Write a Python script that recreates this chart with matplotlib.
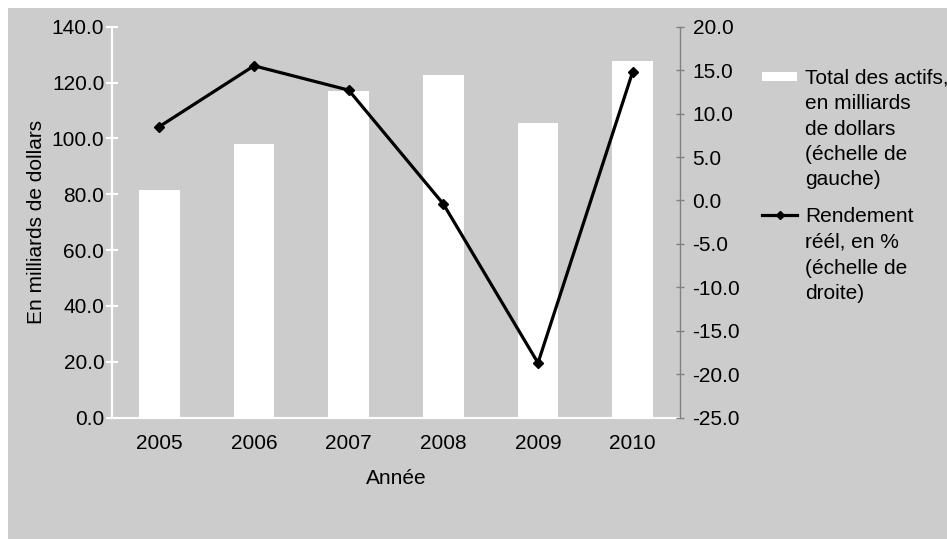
import matplotlib
matplotlib.use('Agg')
import matplotlib.pyplot as plt
from matplotlib.patches import Rectangle
from matplotlib.lines import Line2D

# Data
years = ['2005', '2006', '2007', '2008', '2009', '2010']
total_assets = [81.5, 98.0, 116.9, 122.8, 105.5, 127.7]   # milliards de dollars
real_return = [8.5, 15.5, 12.7, -0.4, -18.7, 14.8]         # %
left_ticks = [0, 20, 40, 60, 80, 100, 120, 140]
right_ticks = [-25, -20, -15, -10, -5, 0, 5, 10, 15, 20]

plt.rcParams['font.family'] = ['Liberation Sans', 'DejaVu Sans']
plt.rcParams['font.size'] = 15

W, H = 947, 539
bg = '#cccccc'

fig = plt.figure(figsize=(W / 100, H / 100), dpi=100)
fig.patch.set_facecolor('white')
fig.patches.append(Rectangle((8 / W, 0), 1, 531 / H, transform=fig.transFigure,
                             facecolor=bg, edgecolor='none', zorder=-10))

# Left axis: bars
ax = fig.add_axes([112 / W, (H - 417.7) / H, 568 / W, 391 / H])
ax.set_facecolor(bg)
x = list(range(len(years)))
ax.bar(x, total_assets, width=0.43, color='white')
ax.set_xlim(-0.5, len(years) - 0.5)
ax.set_ylim(0, 140)
ax.set_yticks(left_ticks)
ax.set_yticklabels([f'{v:.1f}' for v in left_ticks])
ax.set_xticks(x)
ax.set_xticklabels(years)
ax.tick_params(axis='x', length=0, pad=12)
ax.tick_params(axis='y', direction='inout', length=9, width=1.5, color='white', pad=1)
for s in ['top', 'right']:
    ax.spines[s].set_visible(False)
for s in ['left', 'bottom']:
    ax.spines[s].set_color('white')
    ax.spines[s].set_linewidth(1.5)
ax.set_ylabel('En milliards de dollars', labelpad=4)
ax.set_xlabel('Année', labelpad=11)

# Right axis: real return line
ax2 = ax.twinx()
ax2.plot(x, real_return, color='black', lw=2.3, marker='D', ms=5)
ax2.set_ylim(-25, 20)
ax2.set_yticks(right_ticks)
ax2.set_yticklabels([f'{v:.1f}' for v in right_ticks])
ax2.tick_params(axis='y', direction='inout', length=6, width=1, color='#808080', pad=6)
for s in ['top', 'left', 'bottom']:
    ax2.spines[s].set_visible(False)
ax2.spines['right'].set_color('#808080')
ax2.spines['right'].set_linewidth(1)

# Legend, drawn by hand so the handles sit on the first text line
def fx(px):
    return px / W

def fy(py):
    return (H - py) / H

fig.patches.append(Rectangle((fx(762), fy(81)), 35 / W, 9 / H, transform=fig.transFigure,
                             facecolor='white', edgecolor='none', zorder=3))
fig.text(fx(805), fy(69), "Total des actifs,\nen milliards\nde dollars\n(échelle de\ngauche)",
         va='top', ha='left', linespacing=1.42)

fig.add_artist(Line2D([fx(762), fx(797)], [fy(215), fy(215)], transform=fig.transFigure,
                      color='black', lw=2.3))
fig.add_artist(Line2D([fx(779.5)], [fy(215)], transform=fig.transFigure,
                      color='black', marker='D', ms=4.5, lw=0))
fig.text(fx(805), fy(207), "Rendement\nréél, en %\n(échelle de\ndroite)",
         va='top', ha='left', linespacing=1.45)

fig.savefig('out.png', dpi=100)
